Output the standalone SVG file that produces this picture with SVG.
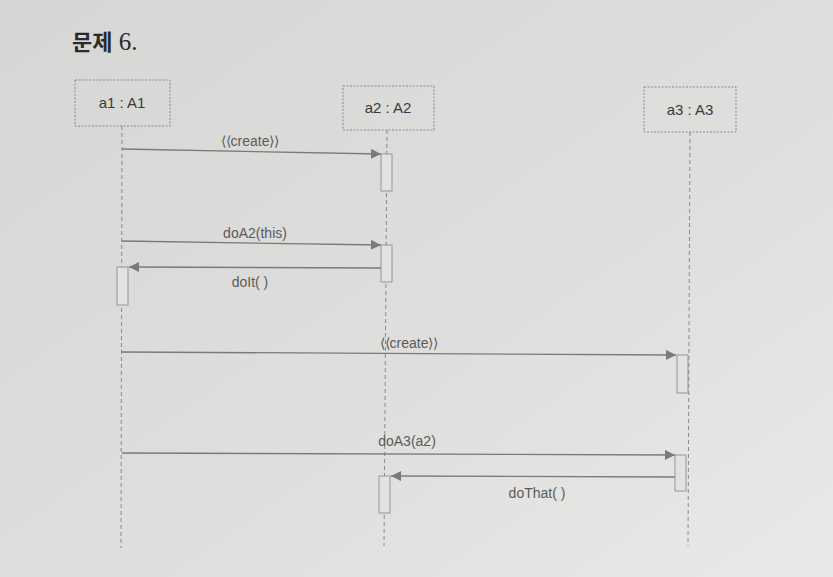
<svg xmlns="http://www.w3.org/2000/svg" width="833" height="577" viewBox="0 0 833 577">
<defs>
<linearGradient id="bg" x1="0" y1="0" x2="1" y2="1">
<stop offset="0" stop-color="#d6d6d4"/>
<stop offset="0.6" stop-color="#dfdfdd"/>
<stop offset="1" stop-color="#e9e9e7"/>
</linearGradient>
<marker id="arr" viewBox="0 0 10 10" refX="10" refY="5" markerWidth="10" markerHeight="10" markerUnits="userSpaceOnUse" orient="auto">
<path d="M0,0 L10,5 L0,10 z" fill="#7a7a7a"/>
</marker>
<style>
.box{fill:none;stroke:#8a8a8a;stroke-width:1;stroke-dasharray:2 1.5}
.life{stroke:#8a8a8a;stroke-width:1;stroke-dasharray:4 3;fill:none}
.act{fill:#e2e2e0;stroke:#8f8f8f;stroke-width:0.9}
.msg{stroke:#7a7a7a;stroke-width:1.3;fill:none;marker-end:url(#arr)}
.lbl{font-family:"Liberation Sans",Arial,sans-serif;font-size:14px;fill:#5a5a5a;text-anchor:middle}
.name{font-family:"Liberation Sans",Arial,sans-serif;font-size:15px;fill:#3a3a3a;text-anchor:middle}
</style>
</defs>
<rect x="0" y="0" width="833" height="577" fill="url(#bg)"/>
<text x="72" y="50" font-size="22" fill="#2a2a2a"><tspan font-family="'Noto Sans CJK KR',sans-serif" font-weight="bold">문제</tspan><tspan font-family="'Liberation Serif',serif" font-size="25"> 6.</tspan></text>

<g id="connectors">
<line class="life" x1="122" y1="126" x2="121" y2="548"/>
<line class="life" x1="387" y1="130" x2="384" y2="546"/>
<line class="life" x1="690" y1="132" x2="688" y2="546"/>
<line class="msg" x1="122" y1="149" x2="381" y2="154"/>
<line class="msg" x1="122" y1="241" x2="381" y2="245"/>
<line class="msg" x1="381" y1="268" x2="129" y2="267"/>
<line class="msg" x1="122" y1="352" x2="676" y2="355"/>
<line class="msg" x1="122" y1="453" x2="675" y2="455"/>
<line class="msg" x1="675" y1="477" x2="391" y2="476"/>
</g>

<g id="a1">
<rect class="box" x="75" y="80" width="95" height="46"/>
<text class="name" x="122" y="108">a1 : A1</text>
<rect class="act" x="117" y="267" width="11" height="38"/>
</g>
<g id="a2">
<rect class="box" x="343" y="86" width="91" height="44"/>
<text class="name" x="388" y="113">a2 : A2</text>
<rect class="act" x="381" y="154" width="11" height="37"/>
<rect class="act" x="381" y="245" width="11" height="37"/>
<rect class="act" x="379" y="476" width="11" height="37"/>
</g>
<g id="a3">
<rect class="box" x="644" y="87" width="92" height="45"/>
<text class="name" x="690" y="115">a3 : A3</text>
<rect class="act" x="677" y="355" width="11" height="38"/>
<rect class="act" x="675" y="455" width="11" height="36"/>
</g>

<g id="labels">
<text class="lbl" x="250" y="146">⟨⟨create⟩⟩</text>
<text class="lbl" x="255" y="238">doA2(this)</text>
<text class="lbl" x="250" y="287">doIt( )</text>
<text class="lbl" x="409" y="348">⟨⟨create⟩⟩</text>
<text class="lbl" x="407" y="446">doA3(a2)</text>
<text class="lbl" x="537" y="498">doThat( )</text>
</g>
</svg>
